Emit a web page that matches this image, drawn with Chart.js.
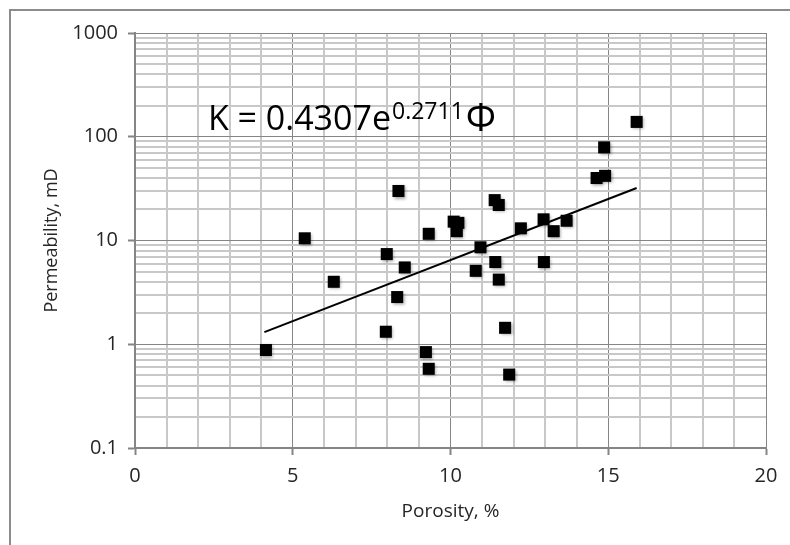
<!DOCTYPE html>
<html>
<head>
<meta charset="utf-8">
<script src="https://cdn.jsdelivr.net/npm/chart.js@4"></script>
<style>
  html, body { margin: 0; padding: 0; background: #fff; overflow: hidden; }
  #frame { position: absolute; left: 9px; top: 9px; width: 900px; height: 700px; border: 2px solid #8c8c8c; }
  #chart { position: absolute; left: 0; top: 0; }
</style>
</head>
<body>
<div id="frame"></div>
<canvas id="chart" width="790" height="545"></canvas>
<script>
// Measured core samples
const porosity = [4.15, 5.38, 6.3, 7.95, 7.98, 8.31, 8.35, 8.55, 9.22, 9.31, 9.31, 10.1, 10.25, 10.2, 10.8, 10.95,
    11.4, 11.42, 11.53, 11.53, 11.73, 11.86, 12.23, 12.95, 12.96, 13.27, 13.68, 14.63, 14.9, 14.87, 15.9];
const permeability = [0.88, 10.5, 4.0, 1.32, 7.4, 2.85, 30, 5.5, 0.84, 0.58, 11.6, 15.2, 14.8, 12.3, 5.1, 8.6,
    24.5, 6.2, 4.2, 22, 1.44, 0.51, 13.1, 16, 6.2, 12.3, 15.5, 40, 42, 79, 139];

// Exponential trendline end points
const trendPorosity = [4.1, 15.9];
const trendPerm = [1.31, 32.1];

// Axis ticks
const yMajorTicks = [0.1, 1, 10, 100, 1000];
const xLabelStep = 5;

const FONT = '"Open Sans", "Liberation Sans", sans-serif';
const TEXT = '#262626';
const MAJOR_GRID = '#858585';
const MINOR_GRID = '#c8c8c8';

// Equation label, anchored in data coordinates
const eqAnchor = { x: 2.31, y: 116 };

const toPoints = (xs, ys) => xs.map((x, i) => ({ x: x, y: ys[i] }));

const shadowPlugin = {
    id: 'markerShadow',
    beforeDatasetDraw(chart, args) {
        if (args.index !== 0) return;
        const ctx = chart.ctx;
        ctx.save();
        ctx.shadowColor = 'rgba(0,0,0,0.35)';
        ctx.shadowBlur = 3;
        ctx.shadowOffsetX = 1.5;
        ctx.shadowOffsetY = 1.5;
    },
    afterDatasetDraw(chart, args) {
        if (args.index !== 0) return;
        chart.ctx.restore();
    }
};

const equationPlugin = {
    id: 'equation',
    afterDatasetsDraw(chart) {
        const ctx = chart.ctx;
        const x0 = chart.scales.x.getPixelForValue(eqAnchor.x);
        const y0 = chart.scales.y.getPixelForValue(eqAnchor.y);
        ctx.save();
        ctx.fillStyle = '#000';
        ctx.textBaseline = 'alphabetic';
        ctx.textAlign = 'left';
        ctx.font = '34px ' + FONT;
        const main = 'K = 0.4307e';
        ctx.fillText(main, x0, y0);
        let x = x0 + ctx.measureText(main).width + 1;
        ctx.font = '23px ' + FONT;
        const sup = '0.2711';
        ctx.fillText(sup, x, y0 - 11);
        x += ctx.measureText(sup).width + 2;
        ctx.font = '38px ' + FONT;
        ctx.fillText('\u03A6', x, y0 + 1);
        ctx.restore();
    }
};

const ctx = document.getElementById('chart').getContext('2d');
const chart = new Chart(ctx, {
    type: 'scatter',
    data: {
        datasets: [{
            label: 'Samples',
            data: toPoints(porosity, permeability),
            backgroundColor: '#000',
            borderColor: '#000',
            pointStyle: 'rect',
            pointRadius: 8.5,
            pointBorderWidth: 0
        }, {
            label: 'Trend',
            type: 'line',
            data: toPoints(trendPorosity, trendPerm),
            borderColor: '#000',
            borderWidth: 2,
            pointRadius: 0,
            fill: false
        }]
    },
    options: {
        responsive: false,
        animation: false,
        layout: {
            padding: { left: 10, top: 33, right: 24, bottom: 0 }
        },
        plugins: {
            legend: { display: false },
            tooltip: { enabled: false }
        },
        scales: {
            x: {
                type: 'linear',
                min: 0,
                max: 20,
                afterFit: function(scale) { scale.height = 97; },
                ticks: {
                    stepSize: 1,
                    autoSkip: false,
                    maxRotation: 0,
                    padding: 9,
                    color: TEXT,
                    font: { family: FONT, size: 20 },
                    callback: function(value) {
                        return value % xLabelStep === 0 ? String(value) : '';
                    }
                },
                grid: {
                    tickLength: 7,
                    color: function(c) { return c.tick && c.tick.value % xLabelStep === 0 ? MAJOR_GRID : MINOR_GRID; },
                    lineWidth: function(c) { return c.tick && c.tick.value % xLabelStep === 0 ? 1 : 2; },
                    tickColor: function(c) { return c.tick && c.tick.value % xLabelStep === 0 ? MAJOR_GRID : 'rgba(0,0,0,0)'; },
                    tickWidth: 2
                },
                border: { color: MAJOR_GRID, width: 2 },
                title: {
                    display: true,
                    text: 'Porosity, %',
                    color: TEXT,
                    font: { family: FONT, size: 19 },
                    padding: { top: 0, bottom: 22 }
                }
            },
            y: {
                type: 'logarithmic',
                min: 0.1,
                max: 1000,
                afterFit: function(scale) { scale.width = 125; },
                afterBuildTicks: function(scale) {
                    const ticks = [];
                    for (let i = 0; i < yMajorTicks.length; i++) {
                        const base = yMajorTicks[i];
                        ticks.push({ value: base, major: true });
                        if (i < yMajorTicks.length - 1) {
                            for (let m = 2; m <= 9; m++) ticks.push({ value: base * m, major: false });
                        }
                    }
                    scale.ticks = ticks;
                },
                ticks: {
                    autoSkip: false,
                    padding: 10,
                    color: TEXT,
                    font: { family: FONT, size: 20 },
                    callback: function(value) {
                        return yMajorTicks.includes(value) ? String(value) : '';
                    }
                },
                grid: {
                    tickLength: 7,
                    color: function(c) { return c.tick && c.tick.major ? MAJOR_GRID : MINOR_GRID; },
                    lineWidth: function(c) { return c.tick && c.tick.major ? 1 : 2; },
                    tickColor: function(c) { return c.tick && c.tick.major ? MAJOR_GRID : 'rgba(0,0,0,0)'; },
                    tickWidth: 2
                },
                border: { color: MAJOR_GRID, width: 2 },
                title: {
                    display: true,
                    text: 'Permeability, mD',
                    color: TEXT,
                    font: { family: FONT, size: 18 },
                    padding: { top: 31, bottom: 0 }
                }
            }
        }
    },
    plugins: [shadowPlugin, equationPlugin]
});
</script>
</body>
</html>
